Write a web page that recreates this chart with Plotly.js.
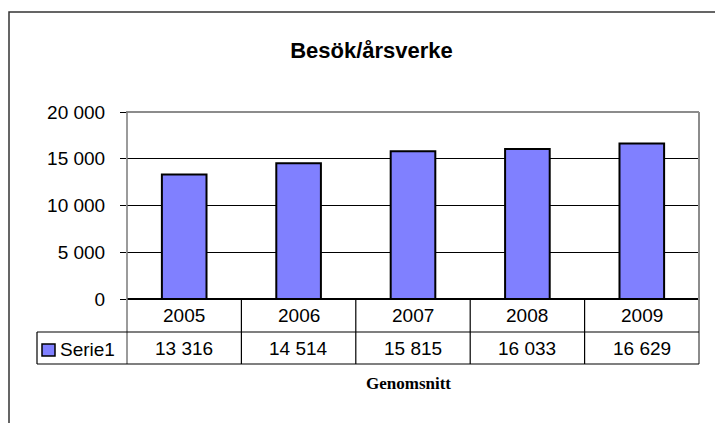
<!DOCTYPE html>
<html>
<head>
<meta charset="utf-8">
<script src="https://cdn.plot.ly/plotly-3.0.1.min.js"></script>
<style>
  html, body { margin: 0; padding: 0; background: #fff; }
  #chart { width: 715px; height: 423px; }
</style>
</head>
<body>
<div id="chart"></div>
<script>
// ---- data ----
const chartTitle = 'Besök/årsverke';
const axisTitle = 'Genomsnitt';
const seriesName = 'Serie1';
const categories = ['2005', '2006', '2007', '2008', '2009'];
const values = [13316, 14514, 15815, 16033, 16629];
const yTickVals = [0, 5000, 10000, 15000, 20000];

// ---- helpers ----
function fmt(v) { return String(v).replace(/\B(?=(\d{3})+(?!\d))/g, ' '); }

const W = 715, H = 423;
const L = 127, R = 699, T = 112, B = 299;
const PW = R - L, PH = B - T;
const px = x => (x - L) / PW;
const py = y => (B - y) / PH;

const ROW1 = 332, ROW2 = 364, LEG_L = 37;
const FONT = 'Arial, "Liberation Sans", sans-serif';
const BORDER_GRAY = '#8c8c8c';

const shapes = [];
// outer chart frame (top and left edges visible)
shapes.push({type: 'path', xref: 'paper', yref: 'paper',
  path: `M ${px(9)} ${py(430)} L ${px(9)} ${py(12)} L ${px(720)} ${py(12)}`,
  line: {color: '#333333', width: 1.5}, layer: 'above'});
// plot area top and right border (gray)
shapes.push({type: 'line', xref: 'paper', yref: 'paper', x0: px(L - 1), x1: px(R), y0: py(T), y1: py(T),
  line: {color: BORDER_GRAY, width: 2}, layer: 'above'});
shapes.push({type: 'line', xref: 'paper', yref: 'paper', x0: px(R), x1: px(R), y0: py(T), y1: py(ROW2),
  line: {color: BORDER_GRAY, width: 2}, layer: 'above'});
// left axis line through the table
shapes.push({type: 'line', xref: 'paper', yref: 'paper', x0: 0, x1: 0, y0: py(T), y1: py(ROW2),
  line: {color: '#7a7a7a', width: 1.5}, layer: 'above'});
// table horizontal lines
[ROW1, ROW2].forEach(yy => shapes.push({type: 'line', xref: 'paper', yref: 'paper',
  x0: px(LEG_L), x1: px(R), y0: py(yy), y1: py(yy), line: {color: '#000', width: 1.2}, layer: 'above'}));
// legend cell left edge
shapes.push({type: 'line', xref: 'paper', yref: 'paper', x0: px(LEG_L), x1: px(LEG_L), y0: py(ROW1), y1: py(ROW2),
  line: {color: '#000', width: 1.2}, layer: 'above'});
// category dividers in table
for (let i = 0; i < categories.length - 1; i++) {
  shapes.push({type: 'line', xref: 'x', yref: 'paper', x0: i + 0.5, x1: i + 0.5, y0: 0, y1: py(ROW2),
    line: {color: '#000', width: 1.2}, layer: 'above'});
}
// legend key
shapes.push({type: 'rect', xref: 'paper', yref: 'paper', x0: px(42), x1: px(55), y0: py(356), y1: py(344),
  fillcolor: '#8080FF', line: {color: '#000', width: 1.5}, layer: 'above'});

const annotations = [];
categories.forEach((c, i) => {
  // category index used as position (numeric-looking labels would otherwise be read as indices)
  annotations.push({x: i, xref: 'x', y: py(315.5), yref: 'paper', text: c, showarrow: false,
    xanchor: 'center', yanchor: 'middle', font: {family: FONT, size: 19, color: '#000'}});
  annotations.push({x: i, xref: 'x', y: py(348.5), yref: 'paper', text: fmt(values[i]), showarrow: false,
    xanchor: 'center', yanchor: 'middle', font: {family: FONT, size: 19, color: '#000'}});
});
annotations.push({x: px(58), xref: 'paper', y: py(349), yref: 'paper', text: seriesName, showarrow: false,
  xanchor: 'left', yanchor: 'middle', font: {family: FONT, size: 19, color: '#000'}});
annotations.push({x: px(408), xref: 'paper', y: py(383), yref: 'paper', text: '<b>' + axisTitle + '</b>',
  showarrow: false, xanchor: 'center', yanchor: 'middle',
  font: {family: '"Times New Roman", "Liberation Serif", serif', size: 17, color: '#000'}});

const trace = {
  type: 'bar', x: categories, y: values, name: seriesName,
  width: 0.39,
  marker: {color: '#8080FF', line: {color: '#000', width: 2}},
  hoverinfo: 'skip'
};

const layout = {
  width: W, height: H,
  margin: {l: L, r: W - R, t: T, b: H - B, pad: 0},
  paper_bgcolor: '#fff', plot_bgcolor: '#fff',
  showlegend: false,
  title: {text: '<b>' + chartTitle + '</b>', xref: 'container', yref: 'container',
    x: 371.5 / W, y: 1 - 50.5 / H, xanchor: 'center', yanchor: 'middle',
    font: {family: FONT, size: 22, color: '#000'}},
  xaxis: {type: 'category', range: [-0.5, categories.length - 0.5], showticklabels: false,
    showgrid: false, zeroline: false, showline: false, ticks: '', fixedrange: true},
  yaxis: {range: [0, 20000], tickvals: yTickVals, ticktext: yTickVals.map(fmt),
    ticks: 'outside', ticklen: 6, tickwidth: 1, tickcolor: '#000',
    ticklabelstandoff: 11,
    showgrid: true, gridcolor: '#000', gridwidth: 1,
    zeroline: true, zerolinecolor: '#000', zerolinewidth: 1.5,
    showline: false, fixedrange: true,
    tickfont: {family: FONT, size: 19, color: '#000'}},
  shapes: shapes,
  annotations: annotations
};

Plotly.newPlot('chart', [trace], layout, {displayModeBar: false, staticPlot: true});
</script>
</body>
</html>
